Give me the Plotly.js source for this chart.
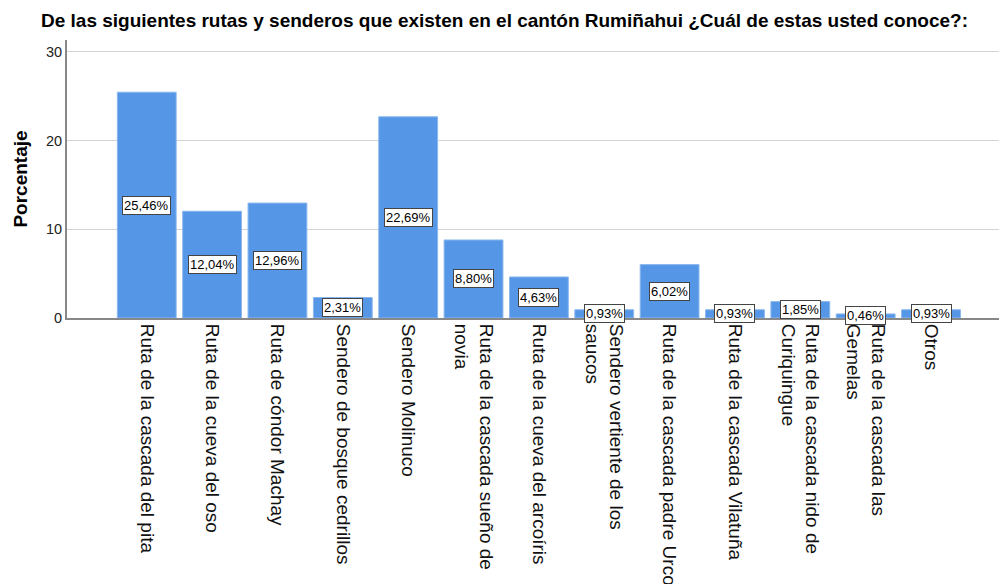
<!DOCTYPE html>
<html>
<head>
<meta charset="utf-8">
<script src="https://cdn.plot.ly/plotly-3.0.1.min.js"></script>
<style>html,body{margin:0;padding:0;background:#fff;}#chart{width:999px;height:584px;}</style>
</head>
<body>
<div id="chart"></div>
<script>
const categories = [
  "Ruta de la cascada del pita",
  "Ruta de la cueva del oso",
  "Ruta de cóndor Machay",
  "Sendero de bosque cedrillos",
  "Sendero Molinuco",
  "Ruta de la cascada sueño de<br>novia",
  "Ruta de la cueva del arcoíris",
  "Sendero vertiente de los<br>saucos",
  "Ruta de la cascada padre Urco",
  "Ruta de la cascada Vilatuña",
  "Ruta de la cascada nido de<br>Curiquingue",
  "Ruta de la cascada las<br>Gemelas",
  "Otros"
];
const percents = [25.46, 12.04, 12.96, 2.31, 22.69, 8.80, 4.63, 0.93, 6.02, 0.93, 1.85, 0.46, 0.93];
const yTicks = [0, 10, 20, 30];

const fmt = v => v.toFixed(2).replace('.', ',') + '%';
const xIdx = categories.map((_, i) => i);
const FONT = 'Liberation Sans, Arial, sans-serif';

const trace = {
  type: 'bar',
  x: xIdx,
  y: percents,
  marker: {color: '#5596e6', line: {color: '#8ab8ee', width: 1}},
  hoverinfo: 'none'
};

const annotations = percents.map((v, i) => ({
  x: i, y: v / 2, xref: 'x', yref: 'y',
  text: fmt(v), showarrow: false,
  font: {family: FONT, size: 13, color: '#000'},
  bgcolor: '#ffffff', bordercolor: '#444444', borderwidth: 1, borderpad: 1
}));

const layout = {
  width: 999, height: 584,
  margin: {l: 67, r: 0, t: 40, b: 266},
  paper_bgcolor: '#fff', plot_bgcolor: '#fff',
  title: {
    text: '<b>De las siguientes rutas y senderos que existen en el cantón Rumiñahui ¿Cuál de estas usted conoce?:</b>',
    font: {family: FONT, size: 19, color: '#000'},
    x: 0.505, xanchor: 'center', y: 0.965, yanchor: 'middle'
  },
  bargap: 0.1,
  showlegend: false,
  xaxis: {
    range: [-1.22, 13.04],
    tickmode: 'array', tickvals: xIdx, ticktext: categories,
    tickangle: 90,
    tickfont: {family: FONT, size: 19, color: '#111'},
    showline: true, linecolor: '#888', linewidth: 2,
    showgrid: false, zeroline: false, ticks: '', ticklen: 0,
    fixedrange: true
  },
  yaxis: {
    range: [0, 31.35],
    tickmode: 'array', tickvals: yTicks, ticktext: yTicks.map(String),
    tickfont: {family: FONT, size: 14.5, color: '#222'},
    title: {text: '<b>Porcentaje</b>', font: {family: FONT, size: 19, color: '#000'}, standoff: 13},
    showline: true, linecolor: '#888', linewidth: 2,
    showgrid: true, gridcolor: '#d4d4d4', gridwidth: 1,
    zeroline: false, ticks: '', ticklen: 0,
    fixedrange: true
  },
  annotations: annotations
};

Plotly.newPlot('chart', [trace], layout, {staticPlot: true, displayModeBar: false});
</script>
</body>
</html>
